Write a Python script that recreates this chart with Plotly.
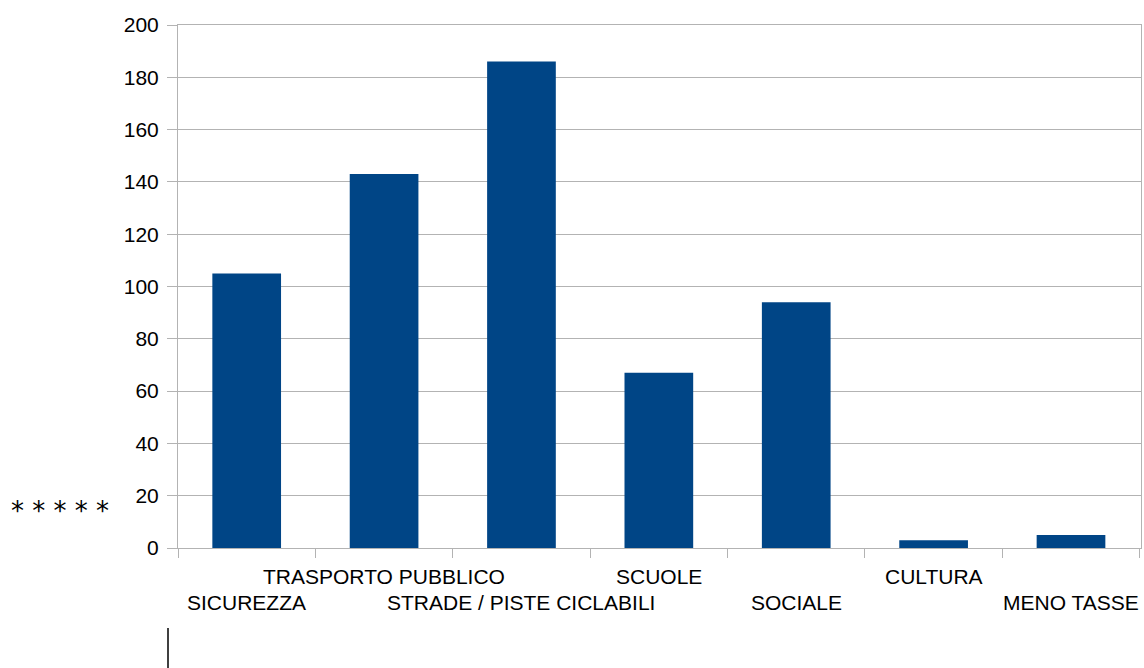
import plotly.graph_objects as go

categories = ["SICUREZZA", "TRASPORTO PUBBLICO", "STRADE / PISTE CICLABILI",
              "SCUOLE", "SOCIALE", "CULTURA", "MENO TASSE"]
values = [105, 143, 186, 67, 94, 3, 5]
y_ticks = list(range(0, 201, 20))

BAR = "#004586"
GRID = "#b3b3b3"
FONT = "Liberation Sans, Arial, sans-serif"

W, H = 1144, 668
L, R, T, B = 178, 3, 25, 120
plot_w = W - L - R
plot_h = H - T - B

fig = go.Figure(go.Bar(x=categories, y=values, marker=dict(color=BAR, line=dict(width=0))))

annotations = []
for i, c in enumerate(categories):
    upper = (i % 2 == 1)
    annotations.append(dict(
        x=c, xref="x", y=0, yref="paper",
        text=c, showarrow=False, xanchor="center", yanchor="middle",
        yshift=-28 if upper else -54,
        font=dict(family=FONT, size=21, color="#000000"),
    ))
annotations.append(dict(
    x=0, xref="paper", xshift=-169, y=20, yref="y", yshift=-15,
    text="* * * * *", showarrow=False,
    xanchor="left", yanchor="middle",
    font=dict(family="DejaVu Sans, sans-serif", size=26, color="#000000"),
))

line_x = (168 - L) / plot_w
fig.update_layout(
    width=W, height=H,
    margin=dict(l=L, r=R, t=T, b=B),
    paper_bgcolor="white", plot_bgcolor="white",
    bargap=0.5, showlegend=False,
    font=dict(family=FONT, size=21, color="#000000"),
    annotations=annotations,
    shapes=[dict(type="line", xref="paper", yref="paper",
                 x0=line_x, x1=line_x,
                 y0=(T + plot_h - 628) / plot_h, y1=(T + plot_h - 670) / plot_h,
                 line=dict(color="black", width=1.5))],
)

fig.update_xaxes(
    type="category", showticklabels=False, tickson="boundaries",
    ticks="outside", ticklen=9, tickcolor=GRID, tickwidth=1,
    showline=True, linecolor=GRID, linewidth=1, mirror=True,
    showgrid=False, zeroline=False, fixedrange=True,
)
fig.update_yaxes(
    range=[0, 200], tickvals=y_ticks, ticks="outside", ticklen=10,
    tickcolor=GRID, tickwidth=1, showgrid=True, gridcolor=GRID, gridwidth=1,
    showline=True, linecolor=GRID, linewidth=1, mirror=True,
    zeroline=False, ticklabelstandoff=4,
    tickfont=dict(family=FONT, size=21, color="#000000"),
)

fig.write_html("out.html", config={"displayModeBar": False},
               post_script="document.body.style.margin='0';document.body.style.overflow='hidden';")
